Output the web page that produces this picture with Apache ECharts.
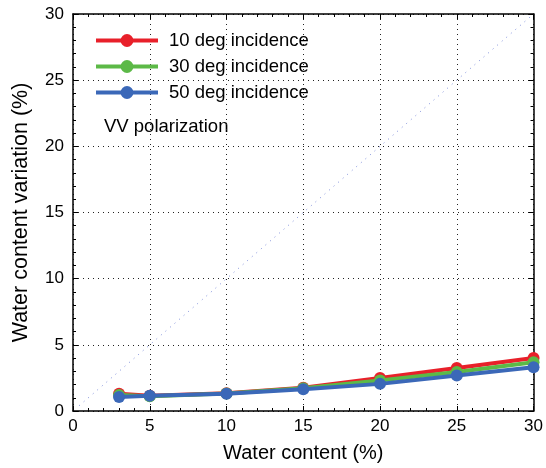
<!DOCTYPE html>
<html><head><meta charset="utf-8">
<script src="https://cdn.jsdelivr.net/npm/echarts@6/dist/echarts.min.js"></script>
<style>html,body{margin:0;padding:0;background:#fff}#c{width:546px;height:468px}</style>
</head><body><div id="c"></div>
<script>
const xValues = [3, 5, 10, 15, 20, 25, 30];
const deg10 = [1.3, 1.15, 1.35, 1.75, 2.5, 3.25, 4.0];
const deg30 = [1.2, 1.12, 1.32, 1.72, 2.3, 2.95, 3.68];
const deg50 = [1.06, 1.15, 1.3, 1.65, 2.05, 2.68, 3.3];
const seriesNames = ['10 deg incidence', '30 deg incidence', '50 deg incidence'];
const seriesColors = ['#e8202a', '#5cb947', '#3b68b8'];
const diagonal = [[0.4, 0.4], [30, 30]];
const font = 'Liberation Sans, Arial, sans-serif';

const chart = echarts.init(document.getElementById('c'));
const pair = arr => xValues.map((x, i) => [x, arr[i]]);
const mk = (name, data, color, z) => ({
  name, type: 'line', data: pair(data), z,
  symbol: 'circle', symbolSize: 12, showSymbol: true,
  lineStyle: {width: 4, color}, itemStyle: {color},
  emphasis: {disabled: true}
});
const axisCommon = {
  min: 0, max: 30, interval: 5,
  axisLine: {show: true, onZero: false, lineStyle: {color: '#000', width: 1.5}},
  axisTick: {show: true, inside: true, length: 5, lineStyle: {color: '#000'}},
  minorTick: {show: true, splitNumber: 5, length: 3, lineStyle: {color: '#000'}},
};
chart.setOption({
  animation: false,
  grid: {left: 73, right: 9, top: 14, bottom: 57},
  legend: {
    left: 89, top: 26, orient: 'vertical', itemGap: 7,
    itemWidth: 62, itemHeight: 16,
    lineStyle: {width: 4},
    textStyle: {fontFamily: font, fontSize: 18.5, color: '#000', padding: [0, 0, 0, 6]},
    data: seriesNames
  },
  graphic: [{type: 'text', left: 104, top: 117,
    style: {text: 'VV polarization', fontFamily: font, fontSize: 18.5, fill: '#000'}}],
  xAxis: [
    Object.assign({}, axisCommon, {type: 'value', position: 'bottom',
      name: 'Water content (%)', nameLocation: 'middle', nameGap: 32,
      nameTextStyle: {fontFamily: font, fontSize: 20, color: '#000'},
      axisLabel: {fontFamily: font, fontSize: 17, color: '#000', margin: 7},
      splitLine: {show: true, lineStyle: {color: '#222', type: [1, 4], width: 1}}}),
    Object.assign({}, axisCommon, {type: 'value', position: 'top',
      axisLabel: {show: false}, splitLine: {show: false}})
  ],
  yAxis: [
    Object.assign({}, axisCommon, {type: 'value', position: 'left',
      name: 'Water content variation (%)', nameLocation: 'middle', nameGap: 41,
      nameTextStyle: {fontFamily: font, fontSize: 21.5, color: '#000'},
      axisLabel: {fontFamily: font, fontSize: 17, color: '#000', margin: 9},
      splitLine: {show: true, lineStyle: {color: '#222', type: [1, 4], width: 1}}}),
    Object.assign({}, axisCommon, {type: 'value', position: 'right',
      axisLabel: {show: false}, splitLine: {show: false}})
  ],
  series: [
    {type: 'line', data: diagonal, symbol: 'none', silent: true, z: 1,
      lineStyle: {color: '#7a8ad8', width: 1, type: [1, 5]}},
    mk(seriesNames[0], deg10, seriesColors[0], 3),
    mk(seriesNames[1], deg30, seriesColors[1], 4),
    mk(seriesNames[2], deg50, seriesColors[2], 5)
  ]
});
</script></body></html>
